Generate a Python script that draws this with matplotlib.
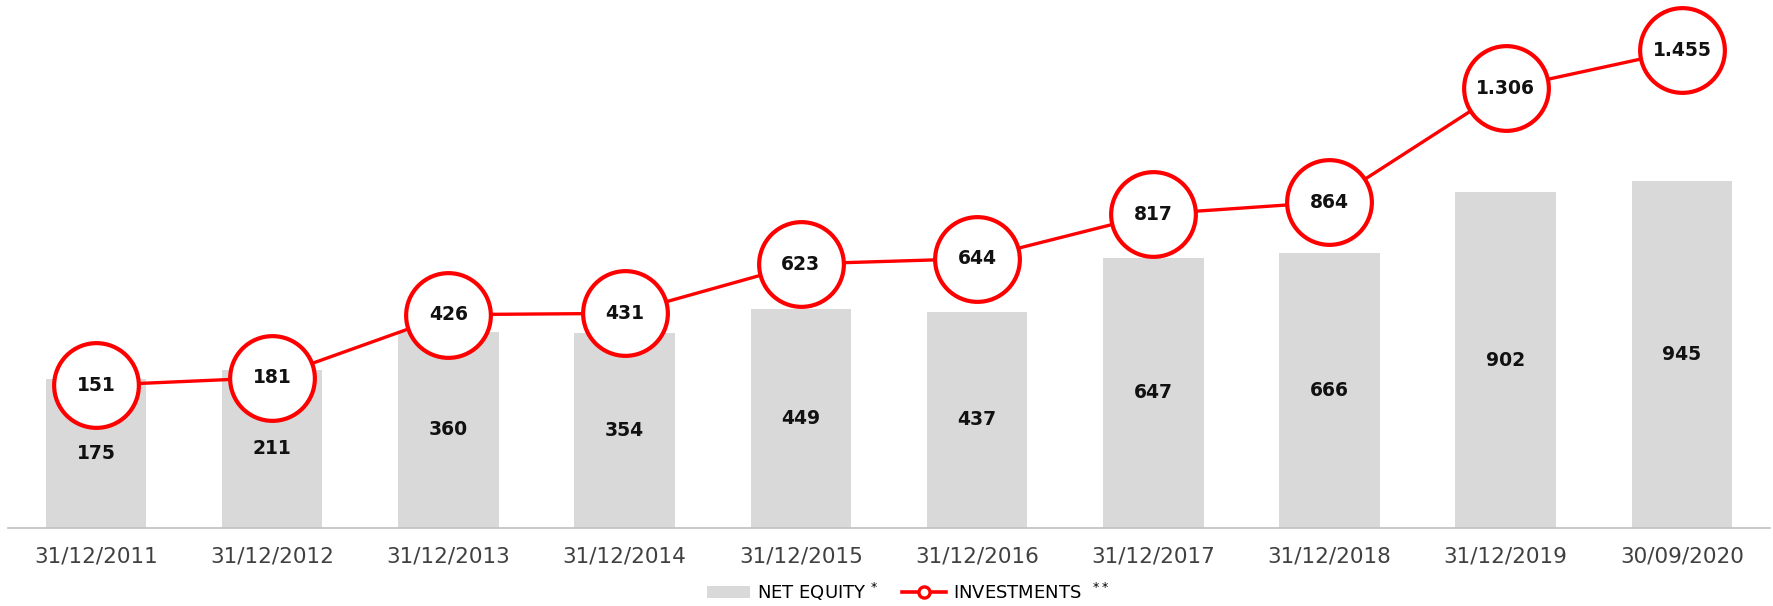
import numpy as np
import matplotlib.pyplot as plt
from matplotlib.lines import Line2D
from matplotlib.patches import Patch

# данные
dates = ['31/12/2011', '31/12/2012', '31/12/2013', '31/12/2014', '31/12/2015',
         '31/12/2016', '31/12/2017', '31/12/2018', '31/12/2019', '30/09/2020']
net_equity = [175, 211, 360, 354, 449, 437, 647, 666, 902, 945]
investments = [151, 181, 426, 431, 623, 644, 817, 864, 1306, 1455]

y_min, y_max = -404, 1650  # ось не от нуля


def fmt(v):
    # тысячи через точку
    return f'{v:,}'.replace(',', '.')


fig = plt.figure(figsize=(17.73, 6.06), dpi=100)
ax = fig.add_axes([0.0045, 0.1287, 0.9938, 0.8713])

x = np.arange(len(dates))
heights = [v - y_min for v in net_equity]
ax.bar(x, heights, bottom=y_min, width=0.57, color='#d9d9d9', zorder=1)
for xi, v in zip(x, net_equity):
    ax.text(xi, (y_min + v) / 2, fmt(v), ha='center', va='center',
            fontsize=13.5, fontweight='semibold', color='#111111', zorder=2)

ax.plot(x, investments, color='#ff0000', lw=2.4, marker='o', ms=61,
        mfc='white', mec='#ff0000', mew=3, zorder=3, clip_on=False)
for xi, v in zip(x, investments):
    ax.text(xi, v, fmt(v), ha='center', va='center',
            fontsize=13.5, fontweight='semibold', color='#111111', zorder=4)

ax.set_xlim(-0.5, len(dates) - 0.5)
ax.set_ylim(y_min, y_max)
ax.set_xticks(x)
ax.set_xticklabels(dates, fontsize=15.5, color='#404040')
ax.tick_params(axis='x', length=0, pad=13)
ax.set_yticks([])
for s in ['top', 'left', 'right']:
    ax.spines[s].set_visible(False)
ax.spines['bottom'].set_color('#c0c0c0')
ax.spines['bottom'].set_linewidth(1.2)

handles = [Patch(facecolor='#d9d9d9'),
           Line2D([0], [0], color='#ff0000', lw=2.6, marker='o', ms=8,
                  mfc='white', mec='#ff0000', mew=2.4)]
fig.legend(handles, ['NET EQUITY $^{*}$', 'INVESTMENTS  $^{**}$'],
           loc='center', bbox_to_anchor=(0.512, 0.024), ncol=2, frameon=False,
           fontsize=13, handlelength=2.4, handleheight=0.6, columnspacing=1.3,
           handletextpad=0.4)

fig.savefig('out.png', dpi=100)
